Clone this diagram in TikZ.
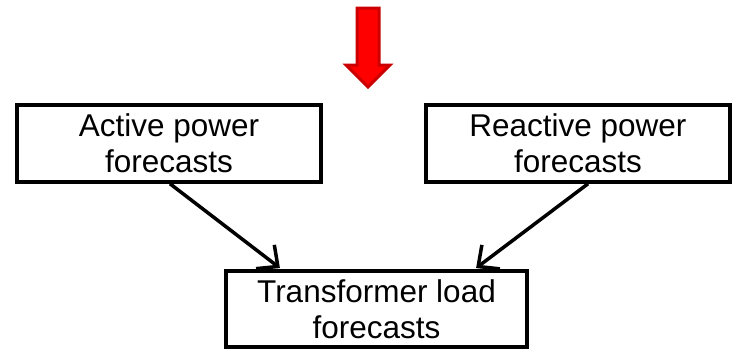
\documentclass[tikz,border=0pt]{standalone}
\usepackage{fontspec}
\setmainfont{Liberation Sans}
\usepackage{tikz}
\usetikzlibrary{arrows.meta,positioning}
\tikzset{
  fcbox/.style={ draw, line width=3.5pt, align=center, inner sep=0pt,
    font=\fontsize{31.5}{36}\selectfont }
}
\tikzset{
  fcarrow/.style={ line width=3.5pt, shorten >=2pt, -{Straight Barb[length=16pt,width=30pt,line width=3.5pt]} }
}
\tikzset{
  bigarrow/.style={ fill=red, draw=red!80!black, line width=3pt, line join=miter }
}

\begin{document}
\begin{tikzpicture}[x=1pt, y=-1pt]
      \useasboundingbox (0,0) rectangle (734,349);
      \node[fcbox, minimum width=304pt, minimum height=77pt] (active) at (169, 143.5) {Active power\\forecasts};
      \node[fcbox, minimum width=304pt, minimum height=77pt] (reactive) at (578, 143.5) {Reactive power\\forecasts};
      \node[fcbox, minimum width=301pt, minimum height=76pt] (trafo) at (376.5, 309) {Transformer load\\forecasts};

      % the red input arrow
      \draw[bigarrow] (357,8) -- (379,8) -- (379,65) -- (390,65) -- (368,87) -- (346,65) -- (357,65) -- cycle;

      \draw[fcarrow] ([xshift=1pt]active.south) -- ([xshift=-95pt]trafo.north);
      \draw[fcarrow] ([xshift=10pt]reactive.south) -- ([xshift=98pt]trafo.north);
    \end{tikzpicture}
\end{document}
